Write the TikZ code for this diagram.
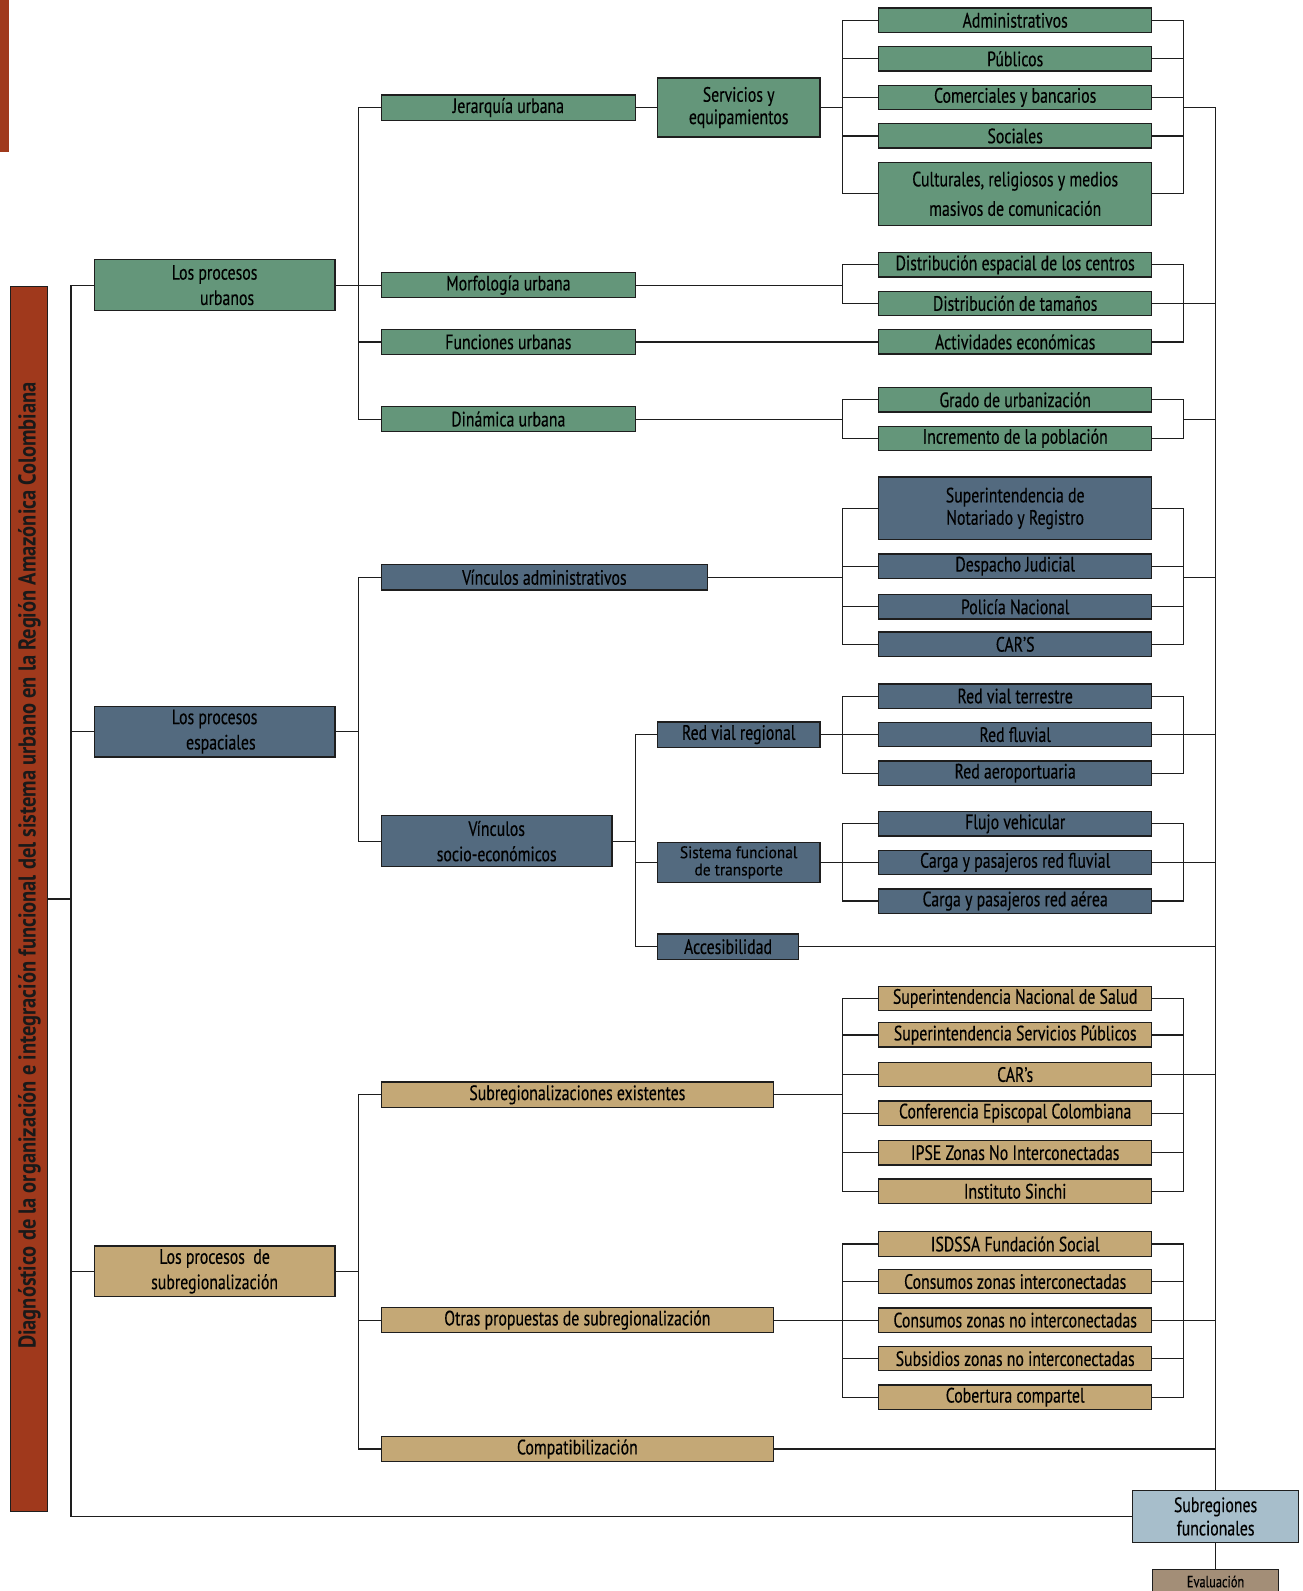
\documentclass[tikz,border=0pt]{standalone}
\usepackage{fontspec}
\setmainfont{PT Sans}[FakeStretch=0.76,FakeBold=0.3]
\newfontfamily\smallcond{PT Sans}[FakeStretch=0.92,FakeBold=0.3]
\newfontfamily\titlefont{PT Sans}[FakeStretch=0.84]
\definecolor{cgreen}{HTML}{64967A}
\definecolor{cblue}{HTML}{536A7F}
\definecolor{ctan}{HTML}{C4A876}
\definecolor{cred}{HTML}{A0391C}
\definecolor{clight}{HTML}{A7BECB}
\definecolor{ceval}{HTML}{A38E77}
\definecolor{cline}{HTML}{1E1E1E}
\begin{document}
\begin{tikzpicture}[x=1pt,y=-1pt,
  bx/.style={draw=cline,line width=1.3pt,rectangle,inner sep=0pt,text=black,align=center,
    font=\fontsize{20.5}{23}\selectfont},
  gb/.style={bx,fill=cgreen},
  bb/.style={bx,fill=cblue},
  tb/.style={bx,fill=ctan},
  l3/.style={minimum width=269pt,minimum height=24pt},
  conn/.style={draw=cline,line width=1.1pt}]
\clip (0,0) rectangle (1284,1568);
\fill[white] (0,0) rectangle (1284,1568);
% coordinates for bracket columns
\coordinate (L1) at (70,0);
\coordinate (L2) at (353,0);
\coordinate (L3) at (626,0);
\coordinate (L4) at (830,0);
\coordinate (R4) at (1166,0);
\coordinate (R5) at (1198,0);
% red marks
\fill[cred] (0,0) rectangle (9,150);
\node[draw=cline,line width=1pt,fill=cred,minimum width=37pt,minimum height=1208pt,inner sep=0pt] (bar) at (28.5,886) {};
\node[rotate=90,font=\titlefont\fontsize{24}{26}\selectfont\bfseries,text=black!90] (ttl) at (29,853) {Diagnóstico de la organización e integración funcional del sistema urbano en la Región Amazónica Colombiana};
% level 1
\node[gb,minimum width=237pt,minimum height=50pt,font=\fontsize{20.5}{25}\selectfont] (pu) at (211.5,281) {Los procesos\hspace{0.8em}\\\hspace{1.2em}urbanos};
\node[bb,minimum width=237pt,minimum height=50pt,font=\fontsize{20.5}{25}\selectfont] (pe) at (211.5,721) {Los procesos\hspace{0.8em}\\\hspace{0.6em}espaciales};
\node[tb,minimum width=237pt,minimum height=50pt,font=\fontsize{20.5}{25}\selectfont] (ps) at (211.5,1253) {Los procesos\ \ de\hspace{0.5em}\\subregionalización\hspace{0.5em}};
% green level 2
\node[gb,minimum width=250pt,minimum height=25pt] (jer) at (501,106) {Jerarquía urbana};
\node[gb,minimum width=250pt,minimum height=25pt] (mor) at (501,281) {Morfología urbana};
\node[gb,minimum width=250pt,minimum height=25pt] (fun) at (501,337) {Funciones urbanas};
\node[gb,minimum width=250pt,minimum height=25pt] (din) at (501,413) {Dinámica urbana};
\node[gb,minimum width=160pt,minimum height=58pt,font=\fontsize{20.5}{22}\selectfont] (serv) at (728,106) {Servicios y\\equipamientos};
% green level 3
\node[gb,l3] (adm) at (1000.5,20) {Administrativos};
\node[gb,l3] (pub) at (1000.5,58) {Públicos};
\node[gb,l3] (com) at (1000.5,96) {Comerciales y bancarios};
\node[gb,l3] (soc) at (1000.5,134) {Sociales};
\node[gb,l3,minimum height=62pt,font=\fontsize{20.5}{29}\selectfont] (cult) at (1000.5,191) {Culturales, religiosos y medios\\masivos de comunicación};
\node[gb,l3] (dist) at (1000.5,261) {Distribución espacial de los centros};
\node[gb,l3] (tam) at (1000.5,299) {Distribución de tamaños};
\node[gb,l3] (act) at (1000.5,337) {Actividades económicas};
\node[gb,l3] (grado) at (1000.5,394) {Grado de urbanización};
\node[gb,l3] (incr) at (1000.5,432) {Incremento de la población};
% blue level 2
\node[bb,minimum width=321pt,minimum height=25pt] (vadm) at (536.5,569) {Vínculos administrativos};
\node[bb,minimum width=227pt,minimum height=50pt,font=\fontsize{20.5}{25}\selectfont] (vse) at (489.5,829) {Vínculos\\socio-económicos};
\node[bb,minimum width=160pt,minimum height=25pt] (rvr) at (728,724) {Red vial regional};
\node[bb,minimum width=160pt,minimum height=40pt,font=\smallcond\fontsize{16.5}{17}\selectfont] (sft) at (728,850) {Sistema funcional\\de transporte};
\node[bb,minimum width=139pt,minimum height=25pt] (acc) at (717.5,933) {Accesibilidad};
% blue level 3
\node[bb,l3,minimum height=62pt,font=\fontsize{20.5}{22}\selectfont] (snr) at (1000.5,501) {Superintendencia de\\Notariado y Registro};
\node[bb,l3] (desp) at (1000.5,558) {Despacho Judicial};
\node[bb,l3] (pol) at (1000.5,598) {Policía Nacional};
\node[bb,l3] (cars) at (1000.5,635) {CAR'S};
\node[bb,l3] (rvt) at (1000.5,686) {Red vial terrestre};
\node[bb,l3] (rfl) at (1000.5,724) {Red fluvial};
\node[bb,l3] (raer) at (1000.5,762) {Red aeroportuaria};
\node[bb,l3] (flu) at (1000.5,812) {Flujo vehicular};
\node[bb,l3] (cfl) at (1000.5,850) {Carga y pasajeros red fluvial};
\node[bb,l3] (caer) at (1000.5,888) {Carga y pasajeros red aérea};
% tan level 2
\node[tb,minimum width=386pt,minimum height=25pt] (sre) at (569,1079) {Subregionalizaciones existentes};
\node[tb,minimum width=386pt,minimum height=25pt] (opr) at (569,1301) {Otras propuestas de subregionalización};
\node[tb,minimum width=386pt,minimum height=25pt] (comp) at (569,1428) {Compatibilización};
% tan level 3
\node[tb,l3] (sns) at (1000.5,984) {Superintendencia Nacional de Salud};
\node[tb,l3] (ssp) at (1000.5,1020) {Superintendencia Servicios Públicos};
\node[tb,l3] (car) at (1000.5,1059) {CAR's};
\node[tb,l3] (cec) at (1000.5,1097) {Conferencia Episcopal Colombiana};
\node[tb,l3] (ipse) at (1000.5,1136) {IPSE Zonas No Interconectadas};
\node[tb,l3] (sin) at (1000.5,1174) {Instituto Sinchi};
\node[tb,l3] (isd) at (1000.5,1226) {ISDSSA Fundación Social};
\node[tb,l3] (czi) at (1000.5,1263) {Consumos zonas interconectadas};
\node[tb,l3] (czni) at (1000.5,1301) {Consumos zonas no interconectadas};
\node[tb,l3] (szni) at (1000.5,1339) {Subsidios zonas no interconectadas};
\node[tb,l3] (cob) at (1000.5,1377) {Cobertura compartel};
% final boxes
\node[bx,fill=clight,minimum width=164pt,minimum height=51pt] (subf) at (1198,1494.5) {Subregiones\\funcionales};
\node[bx,fill=ceval,minimum width=124pt,minimum height=24pt,font=\fontsize{16}{17}\selectfont,anchor=north] (eval) at (1198,1546) {Evaluación};
% ---------- connectors ----------
\draw[conn] (bar.east) -- (bar.east -| L1);
\draw[conn] (pu.west) -- (pu.west -| L1) -- (subf.west -| L1) -- (subf.west);
\draw[conn] (pe.west) -- (pe.west -| L1);
\draw[conn] (ps.west) -- (ps.west -| L1);
% green
\draw[conn] (pu.east) -- (mor.west);
\draw[conn] (jer.west) -- (jer.west -| L2) -- (din.west -| L2) -- (din.west);
\draw[conn] (fun.west) -- (fun.west -| L2);
\draw[conn] (jer.east) -- (serv.west);
\draw[conn] (serv.east) -- (serv.east -| L4);
\draw[conn] (adm.west) -- (adm.west -| L4) -- (cult.west -| L4) -- (cult.west);
\foreach \n in {pub,com,soc} \draw[conn] (\n.west) -- (\n.west -| L4);
\draw[conn] (adm.east) -- (adm.east -| R4) -- (cult.east -| R4) -- (cult.east);
\foreach \n in {pub,com,soc} \draw[conn] (\n.east) -- (\n.east -| R4);
\draw[conn] (serv.east -| R4) -- (serv.east -| R5);
\draw[conn] (mor.east) -- (mor.east -| L4);
\draw[conn] (dist.west) -- (dist.west -| L4) -- (tam.west -| L4) -- (tam.west);
\draw[conn] (fun.east) -- (act.west);
\draw[conn] (dist.east) -- (dist.east -| R4) -- (act.east -| R4) -- (act.east);
\draw[conn] (tam.east) -- (tam.east -| R5);
\draw[conn] (din.east) -- (din.east -| L4);
\draw[conn] (grado.west) -- (grado.west -| L4) -- (incr.west -| L4) -- (incr.west);
\draw[conn] (grado.east) -- (grado.east -| R4) -- (incr.east -| R4) -- (incr.east);
\draw[conn] (din.east -| R4) -- (din.east -| R5);
% blue
\draw[conn] (pe.east) -- (pe.east -| L2);
\draw[conn] (vadm.west) -- (vadm.west -| L2) -- (vse.west -| L2) -- (vse.west);
\draw[conn] (vadm.east) -- (vadm.east -| L4);
\draw[conn] (snr.west) -- (snr.west -| L4) -- (cars.west -| L4) -- (cars.west);
\foreach \n in {desp,pol} \draw[conn] (\n.west) -- (\n.west -| L4);
\draw[conn] (snr.east) -- (snr.east -| R4) -- (cars.east -| R4) -- (cars.east);
\foreach \n in {desp,pol} \draw[conn] (\n.east) -- (\n.east -| R4);
\draw[conn] (vadm.east -| R4) -- (vadm.east -| R5);
\draw[conn] (vse.east) -- (vse.east -| L3);
\draw[conn] (rvr.west) -- (rvr.west -| L3) -- (acc.west -| L3) -- (acc.west);
\draw[conn] (sft.west) -- (sft.west -| L3);
\draw[conn] (rvr.east) -- (rfl.west);
\draw[conn] (rvt.west) -- (rvt.west -| L4) -- (raer.west -| L4) -- (raer.west);
\draw[conn] (rvt.east) -- (rvt.east -| R4) -- (raer.east -| R4) -- (raer.east);
\draw[conn] (rfl.east) -- (rfl.east -| R5);
\draw[conn] (sft.east) -- (cfl.west);
\draw[conn] (flu.west) -- (flu.west -| L4) -- (caer.west -| L4) -- (caer.west);
\draw[conn] (flu.east) -- (flu.east -| R4) -- (caer.east -| R4) -- (caer.east);
\draw[conn] (cfl.east) -- (cfl.east -| R5);
\draw[conn] (acc.east) -- (acc.east -| R5);
% tan
\draw[conn] (ps.east) -- (ps.east -| L2);
\draw[conn] (sre.west) -- (sre.west -| L2) -- (comp.west -| L2) -- (comp.west);
\draw[conn] (opr.west) -- (opr.west -| L2);
\draw[conn] (sre.east) -- (sre.east -| L4);
\draw[conn] (sns.west) -- (sns.west -| L4) -- (sin.west -| L4) -- (sin.west);
\foreach \n in {ssp,car,cec,ipse} \draw[conn] (\n.west) -- (\n.west -| L4);
\draw[conn] (sns.east) -- (sns.east -| R4) -- (sin.east -| R4) -- (sin.east);
\foreach \n in {ssp,cec,ipse} \draw[conn] (\n.east) -- (\n.east -| R4);
\draw[conn] (car.east) -- (car.east -| R5);
\draw[conn] (opr.east) -- (czni.west);
\draw[conn] (isd.west) -- (isd.west -| L4) -- (cob.west -| L4) -- (cob.west);
\foreach \n in {czi,szni} \draw[conn] (\n.west) -- (\n.west -| L4);
\draw[conn] (isd.east) -- (isd.east -| R4) -- (cob.east -| R4) -- (cob.east);
\foreach \n in {czi,szni} \draw[conn] (\n.east) -- (\n.east -| R4);
\draw[conn] (czni.east) -- (czni.east -| R5);
\draw[conn] (comp.east) -- (comp.east -| R5);
% main right spine
\draw[conn] (serv.east -| R5) -- (subf.north);
\draw[conn] (subf.south) -- (eval.north);
\end{tikzpicture}
\end{document}
